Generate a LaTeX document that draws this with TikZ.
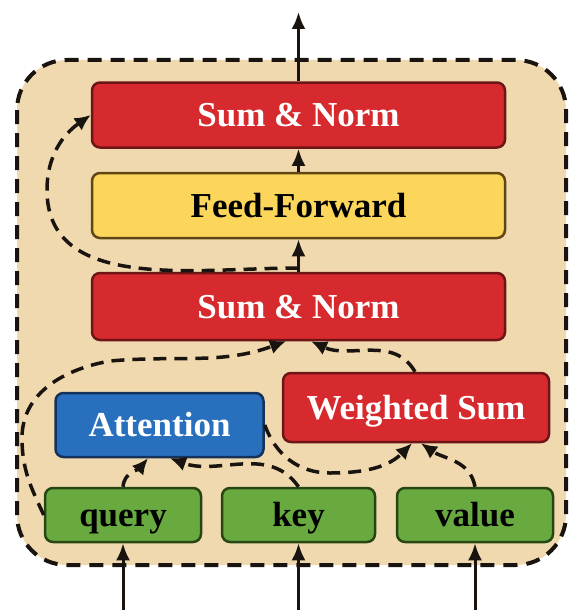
\documentclass[tikz,border=0pt]{standalone}
\usepackage{fontspec}
\setmainfont{Liberation Serif}
\usetikzlibrary{arrows.meta}
\definecolor{tanbg}{RGB}{241,217,175}
\definecolor{redbox}{RGB}{214,42,46}
\definecolor{redline}{RGB}{110,22,22}
\definecolor{yelbox}{RGB}{252,214,90}
\definecolor{yelline}{RGB}{95,70,20}
\definecolor{bluebox}{RGB}{40,112,190}
\definecolor{blueline}{RGB}{20,50,90}
\definecolor{grnbox}{RGB}{104,170,64}
\definecolor{grnline}{RGB}{40,70,20}
\definecolor{ink}{RGB}{25,20,15}
\tikzset{
  box/.style={rounded corners=8pt, line width=2.5pt, inner sep=0pt,
    text height=30pt, text depth=7pt,
    font=\fontsize{35}{40}\selectfont\bfseries},
  redb/.style={box, draw=redline, fill=redbox, text=white},
  yelb/.style={box, draw=yelline, fill=yelbox, text=black},
  blueb/.style={box, draw=blueline, fill=bluebox, text=white},
  grnb/.style={box, draw=grnline, fill=grnbox, text=black},
  solidarrow/.style={line width=3pt, draw=ink, -{Latex[length=17pt,width=14pt]}},
  dasharrow/.style={line width=3.5pt, draw=ink, dash pattern=on 13pt off 8pt,
    -{Latex[length=16pt,width=15pt]}},
}
\begin{document}
\begin{tikzpicture}[x=1pt,y=-1pt]
\useasboundingbox (0,0) rectangle (568,610);
% container
\draw[line width=4pt, draw=ink, fill=tanbg, rounded corners=50pt, dash pattern=on 14pt off 9pt]
  (17,60) rectangle (566,565);
% nodes
\node[redb, minimum width=413pt, minimum height=65pt] (sn1) at (298.5,115) {Sum \& Norm};
\node[yelb, minimum width=413pt, minimum height=65pt] (ff) at (298.5,205.5) {Feed-Forward};
\node[redb, minimum width=413pt, minimum height=67pt] (sn2) at (298.5,306.5) {Sum \& Norm};
\node[blueb, minimum width=208pt, minimum height=64pt] (att) at (159.5,425) {Attention};
\node[redb, minimum width=266pt, minimum height=69pt] (ws) at (416,407.5) {Weighted Sum};
\node[grnb, minimum width=156pt, minimum height=54pt] (q) at (123,515) {query};
\node[grnb, minimum width=153pt, minimum height=54pt] (k) at (298.5,515) {key};
\node[grnb, minimum width=156pt, minimum height=54pt] (v) at (475,515) {value};
% free ends
\coordinate (inq) at (123,612);
\coordinate (ink) at (298.5,612);
\coordinate (inv) at (475,612);
\coordinate (out) at (298.5,12);
\coordinate (r1) at (298.5,268);
% solid arrows
\draw[solidarrow] (inq) -- (q.south);
\draw[solidarrow] (ink) -- (k.south);
\draw[solidarrow] (inv) -- (v.south);
\draw[solidarrow] (sn1.north) -- (out);
\draw[solidarrow] (ff.north) -- (sn1.south);
\draw[solidarrow] (sn2.north) -- (ff.south);
% dashed arrows
\draw[dasharrow] (r1) to[out=180,in=-90] (47,190) to[out=90,in=215] (sn1.west);
\draw[dasharrow] (q.west) to[out=115,in=-90] (22,438) to[out=90,in=190] (110,361) to[out=5,in=200] (sn2.south -| 286,0);
\draw[dasharrow] (ws.north -| 415,0) to[out=120,in=-25] (sn2.south -| 311,0);
\draw[dasharrow] (q.north) to[out=85,in=-130] (att.south -| 148,0);
\draw[dasharrow] (k.north) to[out=125,in=-20] (att.south -| 170,0);
\draw[dasharrow] (att.east) to[out=-70,in=180] (330,473) to[out=0,in=-135] (ws.south -| 412,0);
\draw[dasharrow] (v.north) to[out=100,in=-35] (ws.south -| 421,0);
\end{tikzpicture}
\end{document}
